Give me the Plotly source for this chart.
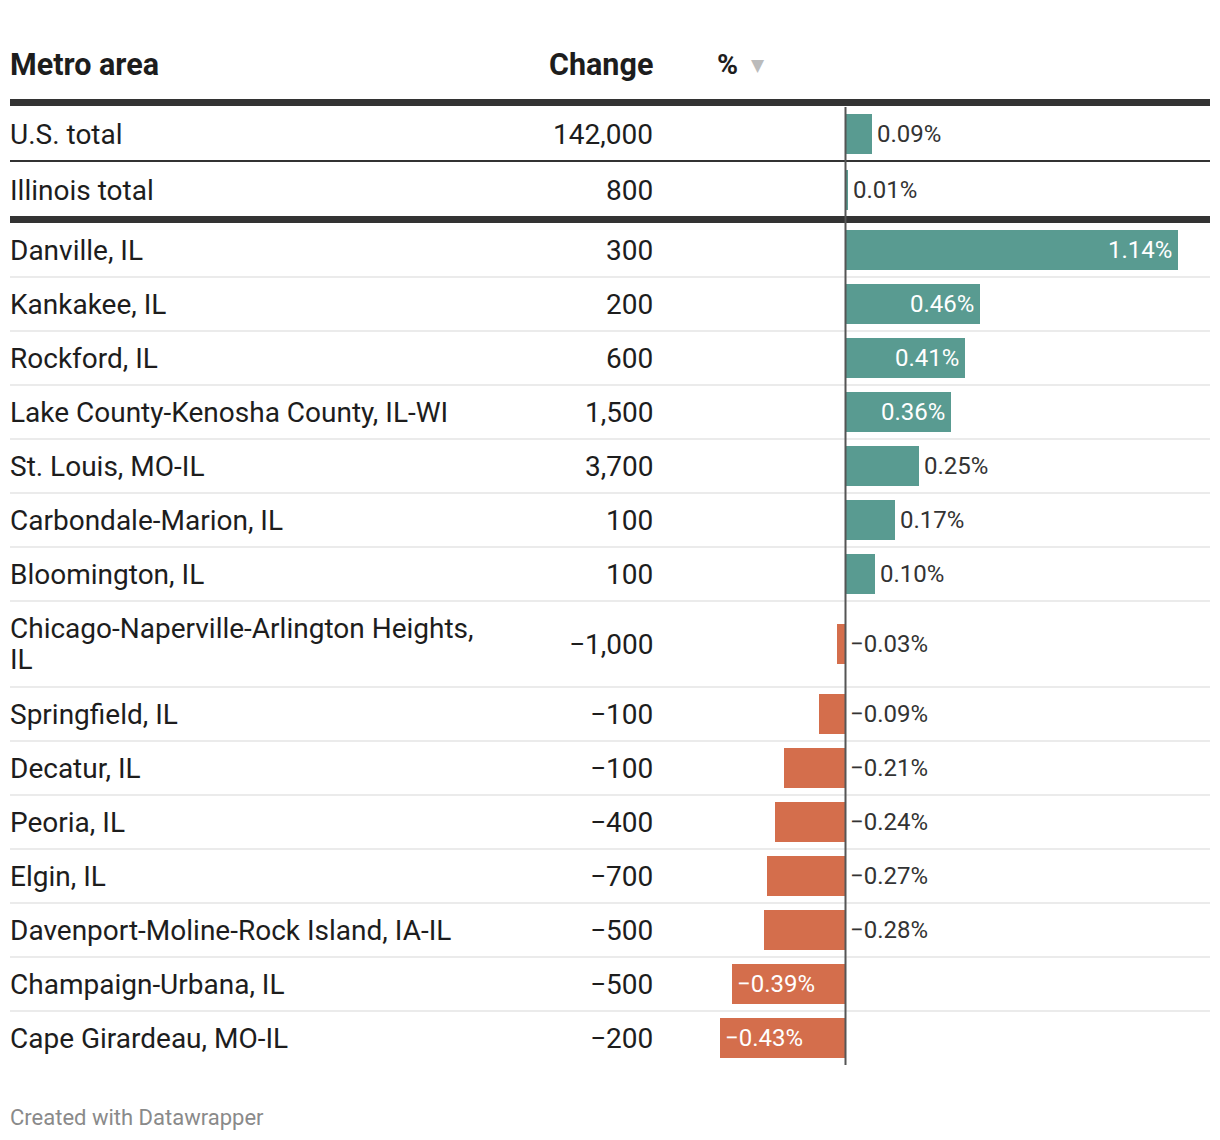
import plotly.graph_objects as go

metros = ["U.S. total", "Illinois total", "Danville, IL", "Kankakee, IL", "Rockford, IL",
          "Lake County-Kenosha County, IL-WI", "St. Louis, MO-IL", "Carbondale-Marion, IL",
          "Bloomington, IL", "Chicago-Naperville-Arlington Heights,<br>IL", "Springfield, IL",
          "Decatur, IL", "Peoria, IL", "Elgin, IL", "Davenport-Moline-Rock Island, IA-IL",
          "Champaign-Urbana, IL", "Cape Girardeau, MO-IL"]
changes = [142000, 800, 300, 200, 600, 1500, 3700, 100, 100, -1000, -100, -100, -400,
           -700, -500, -500, -200]
pct = [0.09, 0.01, 1.14, 0.46, 0.41, 0.36, 0.25, 0.17, 0.10, -0.03, -0.09, -0.21, -0.24,
       -0.27, -0.28, -0.39, -0.43]
headers = ["Metro area", "Change", "%"]
footer = "Created with Datawrapper"

W, H = 1220, 1140
FONT = "Roboto"
TEAL = "#599b91"
ORANGE = "#d46e4c"
DARK = "#333333"
TXT = "#1d1d1d"
BODY = 28
HEAD = 30.5
LAB = 24
LINE_GAP = 31

# row geometry (pixel space, y axis reversed 0..H)
row_h = [56, 56] + [54] * 7 + [86] + [54] * 7
tops = []
y = 106
for i, h in enumerate(row_h):
    if i == 1:
        y = 162
    if i == 2:
        y = 223
    tops.append(y)
    y += h
centers = [t + h / 2 for t, h in zip(tops, row_h)]

def fmt_change(v):
    s = f"{abs(v):,}"
    return ("\u2212" + s) if v < 0 else s

def fmt_pct(v):
    s = f"{abs(v):.2f}%"
    return ("\u2212" + s) if v < 0 else s

colors = [TEAL if v >= 0 else ORANGE for v in pct]

fig = go.Figure()
fig.add_trace(go.Bar(x=pct, y=centers, base=0, orientation="h", width=40,
                     marker=dict(color=colors, line=dict(width=0)),
                     hoverinfo="skip"))

ann = []
# headers
ann.append(dict(x=8 / W, y=64, xref="paper", yref="y", text=f"<b>{headers[0]}</b>",
                xanchor="left", yanchor="middle", showarrow=False,
                font=dict(family=FONT, size=HEAD, color=TXT)))
ann.append(dict(x=655 / W, y=64, xref="paper", yref="y", text=f"<b>{headers[1]}</b>",
                xanchor="right", yanchor="middle", showarrow=False,
                font=dict(family=FONT, size=HEAD, color=TXT)))
ann.append(dict(x=715 / W, y=64, xref="paper", yref="y",
                text=f"<b>{headers[2]}</b>",
                xanchor="left", yanchor="middle", showarrow=False,
                font=dict(family=FONT, size=HEAD - 2, color=TXT)))
ann.append(dict(x=749 / W, y=65, xref="paper", yref="y", text="\u25bc",
                xanchor="left", yanchor="middle", showarrow=False,
                font=dict(family="DejaVu Sans", size=17, color="#bbbbbb")))

for i, (m, c, p) in enumerate(zip(metros, changes, pct)):
    cy = centers[i]
    lines = m.split("<br>")
    n = len(lines)
    for k, ln in enumerate(lines):
        ly = cy + (k - (n - 1) / 2) * LINE_GAP
        ann.append(dict(x=8 / W, y=ly, xref="paper", yref="y", text=ln, xanchor="left",
                        yanchor="middle", align="left", showarrow=False,
                        font=dict(family=FONT, size=BODY, color=TXT)))
    ann.append(dict(x=655 / W, y=cy, xref="paper", yref="y", text=fmt_change(c),
                    xanchor="right", yanchor="middle", showarrow=False,
                    font=dict(family=FONT, size=BODY, color=TXT)))
    inside = abs(p) >= 0.3
    if p >= 0:
        if inside:
            a = dict(x=p, xanchor="right", xshift=-4, color="white")
        else:
            a = dict(x=p, xanchor="left", xshift=3, color=DARK)
    else:
        if inside:
            a = dict(x=p, xanchor="left", xshift=3, color="white")
        else:
            a = dict(x=0, xanchor="left", xshift=2, color=DARK)
    ann.append(dict(x=a["x"], y=cy, xref="x", yref="y", text=fmt_pct(p),
                    xanchor=a["xanchor"], xshift=a["xshift"], yanchor="middle",
                    showarrow=False, font=dict(family=FONT, size=LAB, color=a["color"])))

ann.append(dict(x=8 / W, y=1117, xref="paper", yref="y", text=footer, xanchor="left",
                yanchor="middle", showarrow=False,
                font=dict(family=FONT, size=22, color="#8a8a8a")))

shapes = []
# thick rules
for yy in (102.5, 219.5):
    shapes.append(dict(type="line", xref="paper", yref="y", x0=10 / W, x1=1210 / W,
                       y0=yy, y1=yy, line=dict(color=DARK, width=7), layer="above"))
# thin dark rule between totals
shapes.append(dict(type="line", xref="paper", yref="y", x0=10 / W, x1=1210 / W,
                   y0=161, y1=161, line=dict(color=DARK, width=2), layer="below"))
# light separators
for t in tops[3:]:
    shapes.append(dict(type="line", xref="paper", yref="y", x0=10 / W, x1=1210 / W,
                       y0=t, y1=t, line=dict(color="#ebebeb", width=2), layer="below"))
# zero line
shapes.append(dict(type="line", xref="x", yref="y", x0=0, x1=0, y0=107,
                   y1=tops[-1] + row_h[-1], line=dict(color="#555555", width=2),
                   layer="above"))

px_per_unit = 292.0
x0 = -845.5 / px_per_unit
x1 = x0 + W / px_per_unit

fig.update_layout(
    width=W, height=H, margin=dict(l=0, r=0, t=0, b=0),
    paper_bgcolor="white", plot_bgcolor="white", showlegend=False,
    xaxis=dict(range=[x0, x1], visible=False, fixedrange=True, domain=[0, 1]),
    yaxis=dict(range=[H, 0], visible=False, fixedrange=True, domain=[0, 1]),
    annotations=ann, shapes=shapes, bargap=0,
)

fig.write_html("out.html", config={"displayModeBar": False},
               post_script="document.body.style.margin='0';")
